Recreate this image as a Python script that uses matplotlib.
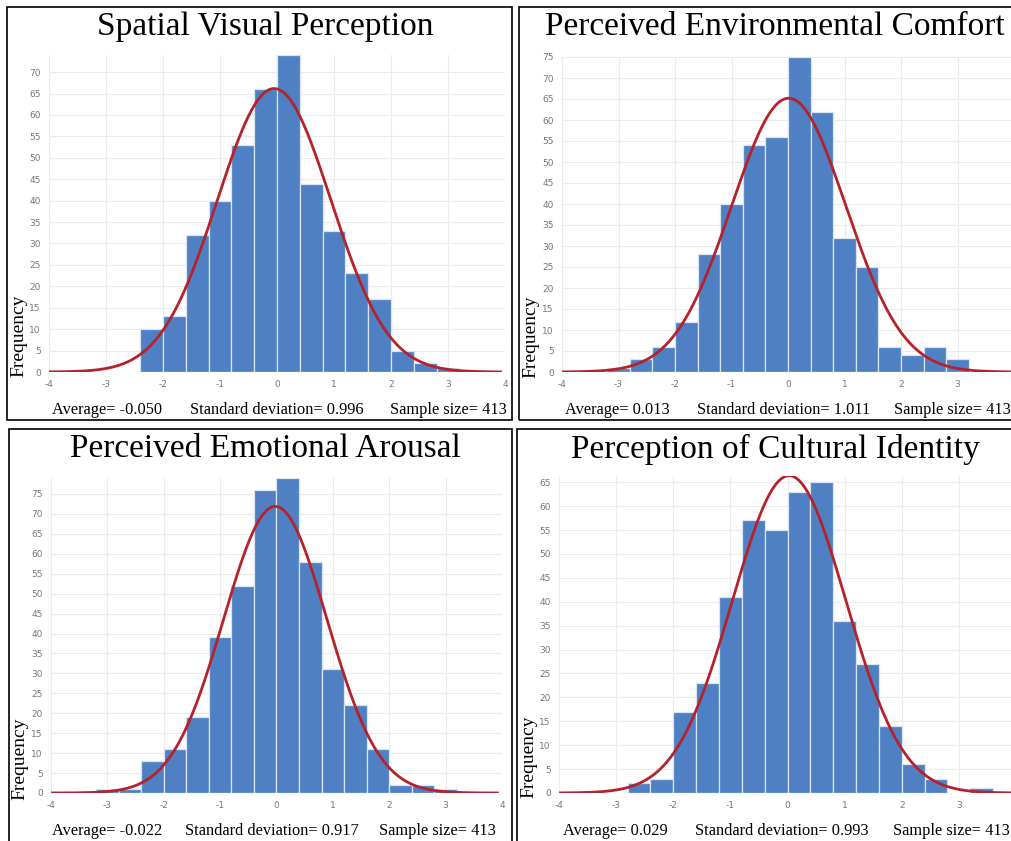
import numpy as np
import matplotlib
matplotlib.use("Agg")
import matplotlib.pyplot as plt
from matplotlib.patches import Rectangle

plt.rcParams["axes.unicode_minus"] = False

# ---------------- data ----------------
titles = ["Spatial Visual Perception", "Perceived Environmental Comfort",
          "Perceived Emotional Arousal", "Perception of Cultural Identity"]
bin_width = 0.4
first_edges = [-2.4, -3.2, -3.2, -2.8]
counts_svp = [10, 13, 32, 40, 53, 66, 74, 44, 33, 23, 17, 5, 2, 1]
counts_pec = [1, 3, 6, 12, 28, 40, 54, 56, 75, 62, 32, 25, 6, 4, 6, 3]
counts_pea = [1, 1, 8, 11, 19, 39, 52, 76, 79, 58, 31, 22, 11, 2, 2, 1]
counts_pci = [2, 3, 17, 23, 41, 57, 55, 63, 65, 36, 27, 14, 6, 3, 0, 1]
all_counts = [counts_svp, counts_pec, counts_pea, counts_pci]
means = [-0.050, 0.013, -0.022, 0.029]
sds = [0.996, 1.011, 0.917, 0.993]
sample_sizes = [413, 413, 413, 413]
y_tops = [74, 75, 79, 66.3]
y_ticks_max = [70, 75, 75, 65]
x_ticks_full = [-4, -3, -2, -1, 0, 1, 2, 3, 4]
x_ticks_cut = [-4, -3, -2, -1, 0, 1, 2, 3]

# ---------------- layout (pixels) ----------------
W, H = 1012, 841
fig = plt.figure(figsize=(W / 100, H / 100), dpi=100)

def fx(px):
    return px / W

def fy(py):
    return 1 - py / H

# axes boxes: left, right, top, bottom in px
axes_px = [(49, 505, 55, 372), (562, 1014, 57, 372),
           (51, 502, 478, 793), (559, 1016, 476, 793)]
borders_px = [(7, 512, 7, 420), (519, 1030, 7, 420),
              (9, 512, 429, 860), (517, 1030, 429, 860)]
title_pos = [(265, 27), (775, 27), (265, 449), (775, 449)]
ylabel_pos = [(19, 336), (531, 337), (20, 759), (529, 757)]
stat_pos = [((52, 190, 390), 410), ((565, 697, 894), 410),
            ((52, 185, 379), 831), ((563, 695, 893), 831)]
tick_sets = [x_ticks_full, x_ticks_cut, x_ticks_full, x_ticks_cut]

bar_color = "#4f80c4"
curve_color = "#b5222a"
serif = ["Liberation Serif", "DejaVu Serif"]

for i in range(4):
    l, r, t, b = axes_px[i]
    ax = fig.add_axes([fx(l), fy(b), fx(r) - fx(l), fy(t) - fy(b)])
    counts = all_counts[i]
    lefts = first_edges[i] + bin_width * np.arange(len(counts))
    ax.bar(lefts, counts, width=bin_width, align="edge", color=bar_color,
           edgecolor="#d9e3f1", linewidth=0.9, zorder=2)
    xs = np.linspace(-4, 3.92, 400)
    ys = sample_sizes[i] * bin_width / (np.sqrt(2 * np.pi) * sds[i]) * \
        np.exp(-0.5 * ((xs - means[i]) / sds[i]) ** 2)
    ax.plot(xs, ys, color=curve_color, lw=2.0, zorder=3)
    ax.set_xlim(-4, 4)
    ax.set_ylim(0, y_tops[i])
    ax.set_xticks(tick_sets[i])
    ax.set_yticks(np.arange(0, y_ticks_max[i] + 1, 5))
    ax.grid(True, color="#ebebeb", lw=0.8, zorder=0)
    ax.set_axisbelow(True)
    for s in ax.spines.values():
        s.set_visible(False)
    ax.tick_params(length=0, labelsize=6.5, labelcolor="#777777", pad=6)
    ax.tick_params(axis="y", pad=6)

    bl, br, bt, bb = borders_px[i]
    fig.patches.append(Rectangle((fx(bl), fy(bb)), fx(br) - fx(bl), fy(bt) - fy(bb),
                                 transform=fig.transFigure, fill=False,
                                 edgecolor="black", lw=1.2))
    tx, ty = title_pos[i]
    fig.text(fx(tx), fy(ty), titles[i], ha="center", va="center",
             fontsize=24, family=serif)
    lx, ly = ylabel_pos[i]
    fig.text(fx(lx), fy(ly), "Frequency", ha="center", va="center",
             rotation=90, fontsize=14, family=serif)
    (sx1, sx2, sx3), sy = stat_pos[i]
    fig.text(fx(sx1), fy(sy), f"Average= {means[i]:.3f}", ha="left", va="center",
             fontsize=11.8, family=serif)
    fig.text(fx(sx2), fy(sy), f"Standard deviation= {sds[i]:.3f}", ha="left",
             va="center", fontsize=11.8, family=serif)
    fig.text(fx(sx3), fy(sy), f"Sample size= {sample_sizes[i]}", ha="left",
             va="center", fontsize=11.8, family=serif)

fig.savefig("out.png", dpi=100)
